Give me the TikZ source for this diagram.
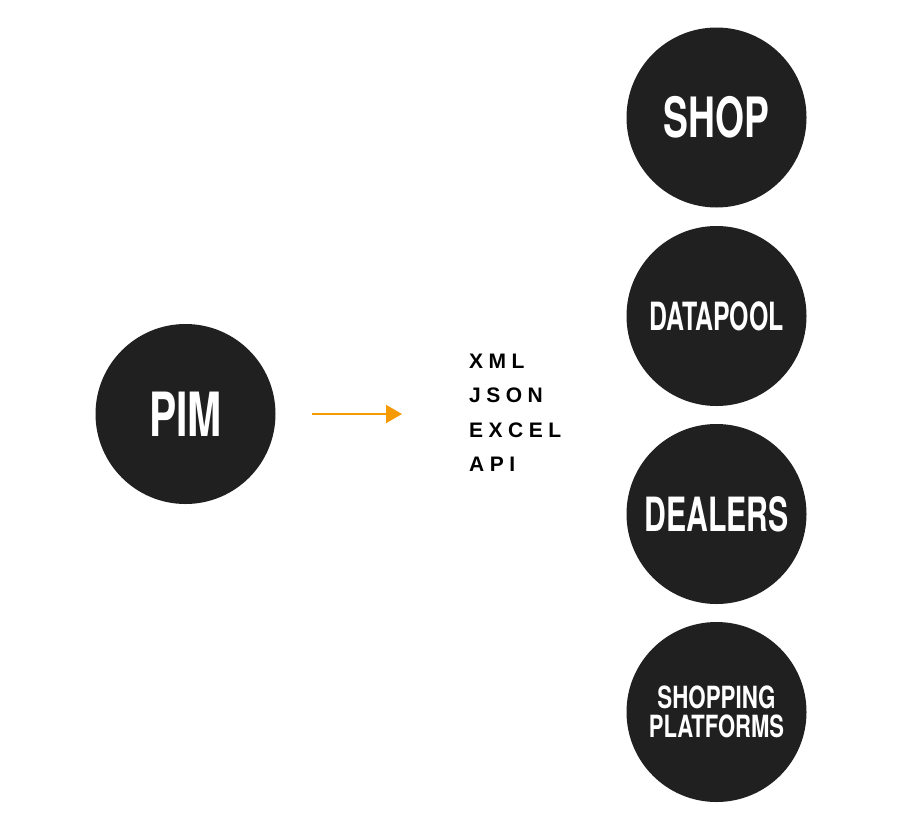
\documentclass[tikz,border=0pt]{standalone}
\usepackage{fontspec}
\setmainfont{Liberation Sans}
\newfontfamily\herosfont{TeX Gyre Heros}
\usetikzlibrary{arrows.meta}
\definecolor{disc}{HTML}{202020}
\definecolor{arrcol}{HTML}{F59A00}
\newcommand\lbl[3]{\scalebox{#2}[1]{\fontsize{#1}{#1}\selectfont\herosfont\bfseries #3}}
\newcommand\gp{\kern5.5pt}
\tikzset{
  disc/.style={circle, fill=disc, draw=none, minimum size=180pt, inner sep=0pt, text=white, align=center},
  fmt/.style={anchor=base west, inner sep=0pt, font=\fontsize{21pt}{21pt}\selectfont\bfseries, text=black},
  flow/.style={draw=arrcol, line width=2pt, -{Triangle[length=16pt,width=18pt]}}
}
\begin{document}
\begin{tikzpicture}[x=1pt,y=-1pt]
\useasboundingbox (0,0) rectangle (904,830);
\node[disc] (pim) at (185.5,414) {\lbl{61pt}{0.67}{PIM}};
\node[disc] (shop) at (716.5,117.5) {\lbl{55.6pt}{0.67}{SHOP}};
\node[disc] (datapool) at (716.5,316) {\lbl{38.9pt}{0.64}{DATAPOOL}};
\node[disc] (dealers) at (716.5,514) {\lbl{47.2pt}{0.64}{DEALERS}};
\node[disc, font=\fontsize{30.6pt}{28pt}\selectfont] (platforms) at (716.5,712) {\lbl{30.6pt}{0.73}{SHOPPING}\\[1pt]\lbl{30.6pt}{0.72}{PLATFORMS}};
\coordinate (a1) at (312,414);
\coordinate (a2) at (402,414);
\draw[flow] (a1) -- (a2);
\node[fmt] (xml) at (469,368) {X\gp M\gp L};
\node[fmt] (json) at (469,402.5) {J\gp S\gp O\gp N};
\node[fmt] (excel) at (469,437) {E\gp X\gp C\gp E\gp L};
\node[fmt] (api) at (469,471.5) {A\gp P\gp I};
\end{tikzpicture}
\end{document}
